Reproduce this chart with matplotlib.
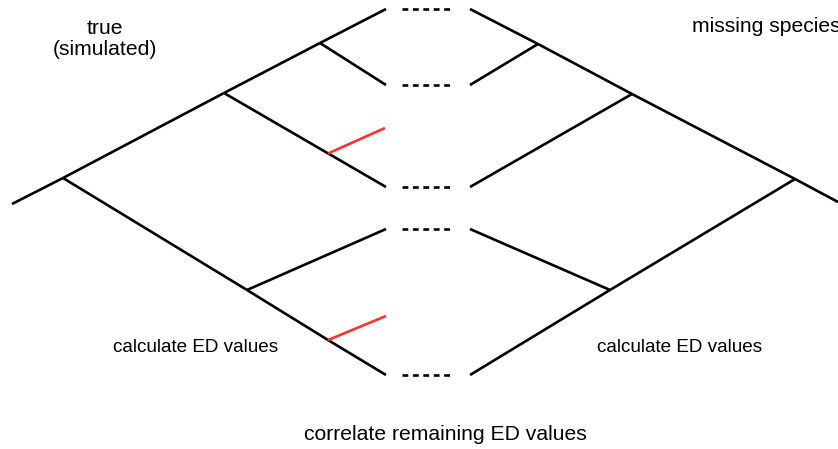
import matplotlib
matplotlib.use("Agg")
import matplotlib.pyplot as plt

# Tree layout (diagram units: x to the right, y downward)
leaf_y = [9, 85, 187, 229, 375]
left_tips_x = 386
right_tips_x = 470

# left tree ("true (simulated)") node positions
left_nodes = {"root": (12, 204), "a": (63, 178), "b": (224, 93), "c": (320, 43),
              "d": (247, 290), "e": (328, 340)}
left_edges = [("root", "a"), ("a", "b"), ("b", "c"), ("c", 0), ("c", 1),
              ("b", 2), ("a", "d"), ("d", 3), ("d", "e"), ("e", 4)]
# red (removed) branches: start on a branch, end at x,y
red_start = [(328, 153.5), (328, 340)]
red_end = [(385, 128), (386, 316)]

# right tree ("missing species")
right_nodes = {"root": (838, 202), "a": (795, 179), "b": (632, 94), "c": (538, 44),
               "d": (610, 290)}
right_edges = [("root", "a"), ("a", "b"), ("b", "c"), ("c", 0), ("c", 1),
               ("b", 2), ("a", "d"), ("d", 3), ("d", 4)]

dash_x = (402, 452)

big_labels = {
    "true\n(simulated)": (105, 39),
    "correlate remaining ED values": (445, 434),
}
small_labels = ["calculate ED values", "calculate ED values"]
small_pos = [(196, 348), (680, 348)]

plt.rcParams['font.family'] = ['Liberation Sans', 'DejaVu Sans']
fig = plt.figure(figsize=(8.38, 4.49), dpi=100)
ax = fig.add_axes([0, 0, 1, 1])
ax.set_xlim(0, 838)
ax.set_ylim(449, 0)
ax.axis('off')

lw = 1.9

def pt(nodes, key, tipx):
    if isinstance(key, int):
        return (tipx, leaf_y[key])
    return nodes[key]

for nodes, edges, tipx in [(left_nodes, left_edges, left_tips_x),
                           (right_nodes, right_edges, right_tips_x)]:
    for a, b in edges:
        p, q = pt(nodes, a, tipx), pt(nodes, b, tipx)
        ax.plot([p[0], q[0]], [p[1], q[1]], color='black', lw=lw,
                solid_capstyle='butt')

for s, e in zip(red_start, red_end):
    ax.plot([s[0], e[0]], [s[1], e[1]], color='#ff3333', lw=lw,
            solid_capstyle='butt')

for y in leaf_y:
    ax.plot(dash_x, [y, y], color='black', lw=lw, linestyle=(0, (2.2, 1.75)),
            dash_capstyle='butt')

for txt, (x, y) in big_labels.items():
    ax.text(x, y, txt, ha='center', va='center', fontsize=15.2,
            linespacing=1.12)

for txt, (x, y) in zip(small_labels, small_pos):
    ax.text(x, y, txt, ha='center', va='center', fontsize=13.6)

# the reference also lets this label run off the right edge
ax.text(692, 27, "missing species", ha='left', va='center', fontsize=15.2)

fig.savefig("out.png", dpi=100)
